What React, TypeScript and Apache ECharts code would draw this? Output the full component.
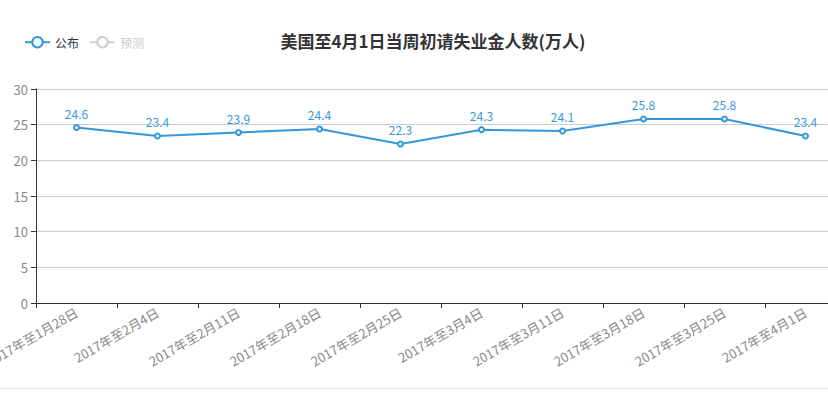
import React, { useEffect, useRef } from "react";
import * as echarts from "echarts";

const categories = [
  "2017年至1月28日",
  "2017年至2月4日",
  "2017年至2月11日",
  "2017年至2月18日",
  "2017年至2月25日",
  "2017年至3月4日",
  "2017年至3月11日",
  "2017年至3月18日",
  "2017年至3月25日",
  "2017年至4月1日",
];
const published = [24.6, 23.4, 23.9, 24.4, 22.3, 24.3, 24.1, 25.8, 25.8, 23.4];
const forecast: number[] = [];

const FONT = "'Noto Sans CJK SC', 'Noto Sans', sans-serif";

export default function App() {
  const ref = useRef<HTMLDivElement>(null);
  useEffect(() => {
    if (!ref.current) return;
    const chart = echarts.init(ref.current, undefined, { renderer: "svg" });
    chart.setOption({
      animation: false,
      textStyle: { fontFamily: FONT },
      color: ["#3398db", "#bbbbbb"],
      title: {
        text: "美国至4月1日当周初请失业金人数(万人)",
        left: "center",
        top: 27,
        textStyle: { fontSize: 17, fontWeight: "bold", color: "#333", fontFamily: FONT },
      },
      legend: {
        left: 19,
        top: 31,
        itemWidth: 25,
        itemHeight: 13,
        itemGap: 10,
        textStyle: { fontSize: 12, color: "#333", fontFamily: FONT },
        inactiveColor: "#ccc",
        data: ["公布", "预测"],
        selected: { 公布: true, 预测: false },
      },
      grid: { left: 36, right: 20, top: 89, bottom: 94, containLabel: false, outerBoundsMode: "none" },
      xAxis: {
        type: "category",
        data: categories,
        boundaryGap: true,
        axisLine: { lineStyle: { color: "#333", width: 1 } },
        axisTick: { show: true, alignWithLabel: false, lineStyle: { color: "#333" } },
        axisLabel: { rotate: 30, interval: 0, color: "#888", fontSize: 13, fontFamily: FONT, margin: 8 },
      },
      yAxis: {
        type: "value",
        min: 0,
        max: 30,
        interval: 5,
        axisLine: { show: true, lineStyle: { color: "#333", width: 1 } },
        axisTick: { show: true, lineStyle: { color: "#333" } },
        axisLabel: { color: "#888", fontSize: 13, fontFamily: FONT, margin: 8 },
        splitLine: { lineStyle: { color: "#ccc" } },
      },
      series: [
        {
          name: "公布",
          type: "line",
          data: published,
          symbol: "emptyCircle",
          symbolSize: 5,
          lineStyle: { width: 2, color: "#3398db" },
          itemStyle: { color: "#3398db" },
          label: { show: true, position: "top", color: "#3398db", fontSize: 12, fontFamily: FONT },
        },
        {
          name: "预测",
          type: "line",
          data: forecast,
          symbol: "emptyCircle",
          symbolSize: 5,
        },
      ],
      graphic: [
        {
          type: "rect",
          left: 0,
          top: 388,
          shape: { width: 900, height: 1 },
          style: { fill: "#e8e8e8" },
        },
      ],
    });
    return () => chart.dispose();
  }, []);
  return (
    <div style={{ position: "absolute", left: 0, top: 0, width: 828, height: 397, overflow: "hidden" }}>
      <div ref={ref} style={{ width: 866, height: 397 }} />
    </div>
  );
}
